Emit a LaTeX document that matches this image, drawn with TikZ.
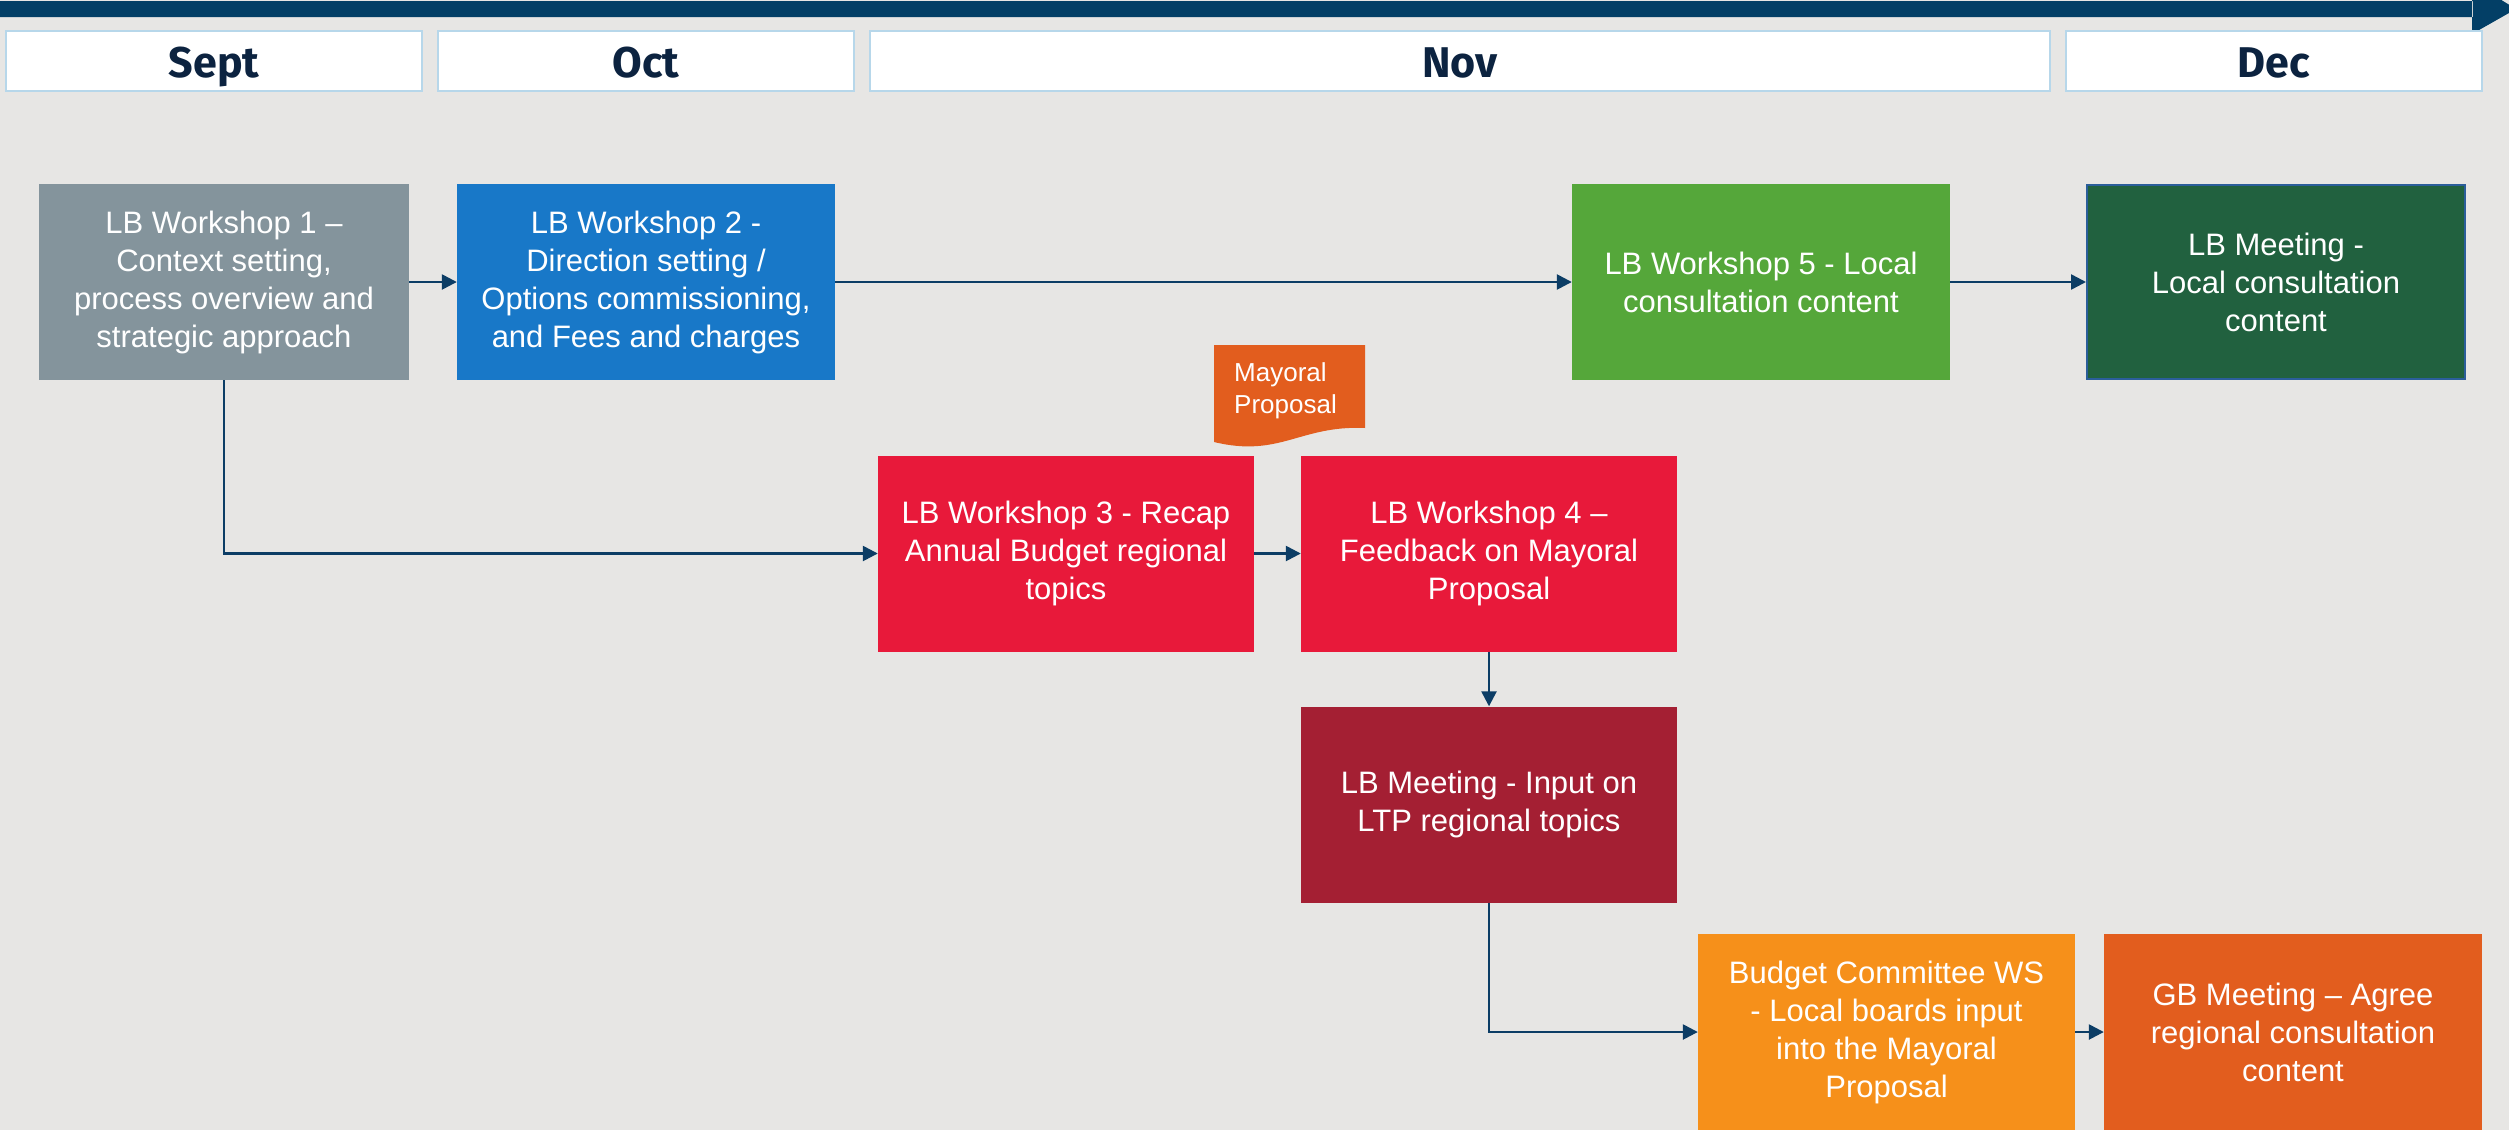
\documentclass[tikz,border=0pt]{standalone}
\usepackage{fontspec}
\setmainfont{Liberation Sans}
\newfontfamily\monthfont{Fira Sans}
\usetikzlibrary{arrows.meta}
\definecolor{bgcol}{HTML}{E7E6E4}
\definecolor{barcol}{HTML}{033F66}
\definecolor{monthtext}{HTML}{0C2340}
\definecolor{monthedge}{HTML}{B7D7EA}
\definecolor{greycol}{HTML}{84949C}
\definecolor{bluecol}{HTML}{1878C8}
\definecolor{greencol}{HTML}{55A73A}
\definecolor{dgreencol}{HTML}{21613F}
\definecolor{dgreenedge}{HTML}{2B5E9A}
\definecolor{redcol}{HTML}{E8193A}
\definecolor{dredcol}{HTML}{A41F33}
\definecolor{orangecol}{HTML}{F6901A}
\definecolor{rustcol}{HTML}{E25D1E}
\definecolor{conncol}{HTML}{0C3D65}
\tikzset{
  monthbox/.style={draw=monthedge, line width=2pt, fill=white, minimum height=60pt, inner sep=0pt,
    text height=36pt, text depth=4pt,
    font=\monthfont\bfseries\fontsize{43}{48}\selectfont, text=monthtext},
  stepbox/.style={minimum height=196pt, minimum width=376pt, inner sep=0pt, align=center,
    text=white, font=\fontsize{31}{38}\selectfont},
  conn/.style={draw=conncol, line width=2.5pt, -{Triangle[length=15pt,width=15pt]}}
}
\begin{document}
\begin{tikzpicture}[x=1pt,y=-1pt]
\useasboundingbox (0,0) rectangle (2509,1130);
\fill[bgcol] (0,0) rectangle (2509,1130);
\begin{scope}
\clip (0,0) rectangle (2509,1130);
\fill[barcol] (0,1) rectangle (2473,17) (2472,-18) -- (2516,9) -- (2472,34) -- cycle;
\end{scope}
% months
\node[monthbox, minimum width=416pt] (sept) at (214,61) {Sept};
\node[monthbox, minimum width=416pt] (oct) at (646,61) {Oct};
\node[monthbox, minimum width=1180pt] (nov) at (1460,61) {Nov};
\node[monthbox, minimum width=416pt] (dec) at (2274,61) {Dec};
% steps
\node[stepbox, fill=greycol, minimum width=370pt] (ws1) at (224,282)
  {LB Workshop 1 --\\Context setting,\\process overview and\\strategic approach};
\node[stepbox, fill=bluecol, minimum width=378pt] (ws2) at (646,282)
  {LB Workshop 2 -\\Direction setting /\\Options commissioning,\\and Fees and charges};
\node[stepbox, fill=greencol, minimum width=378pt] (ws5) at (1761,282)
  {LB Workshop 5 - Local\\consultation content};
\node[stepbox, fill=dgreencol, draw=dgreenedge, line width=2pt, minimum width=378pt, minimum height=194pt] (lbm) at (2276,282)
  {LB Meeting -\\Local consultation\\content};
\node[stepbox, fill=redcol] (ws3) at (1066,553.5)
  {LB Workshop 3 - Recap\\Annual Budget regional\\topics};
\node[stepbox, fill=redcol] (ws4) at (1489,553.5)
  {LB Workshop 4 --\\Feedback on Mayoral\\Proposal};
\node[stepbox, fill=dredcol] (lbi) at (1489,804.5)
  {LB Meeting - Input on\\LTP regional topics};
\node[stepbox, fill=orangecol, minimum width=377pt] (bc) at (1886.5,1032)
  {Budget Committee WS\\- Local boards input\\into the Mayoral\\Proposal};
\node[stepbox, fill=rustcol, minimum width=378pt] (gb) at (2293,1032)
  {GB Meeting -- Agree\\regional consultation\\content};
% mayoral proposal document shape
\fill[rustcol] (1214,345) -- (1365,345) -- (1365,428)
  .. controls (1300,425) and (1280,458) .. (1214,442) -- cycle;
\node[anchor=west, inner sep=0pt, align=left, text=white, font=\fontsize{26}{32}\selectfont] (mp) at (1234,391)
  {Mayoral\\Proposal};
% connectors
\draw[conn] (ws1) -- (ws2);
\draw[conn] (ws2) -- (ws5);
\draw[conn] (ws5) -- (lbm);
\draw[conn] (ws1.south) |- (ws3.west);
\draw[conn] (ws3) -- (ws4);
\draw[conn] (ws4) -- (lbi);
\draw[conn] (lbi.south) |- (bc.west);
\draw[conn] (bc) -- (gb);
\end{tikzpicture}
\end{document}
